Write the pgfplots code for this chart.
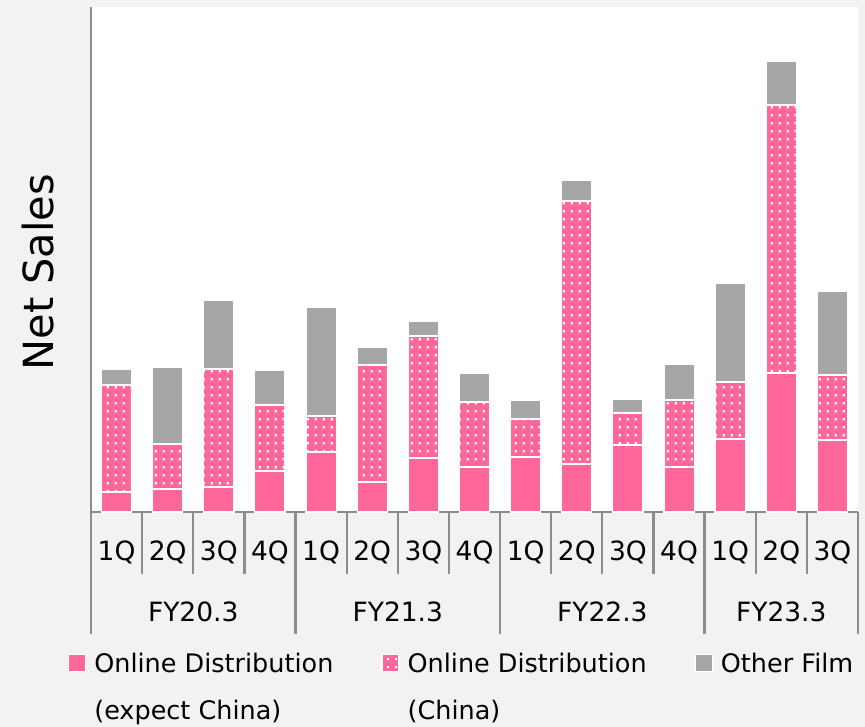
\documentclass[border=0pt]{standalone}
\usepackage{pgfplots}
\pgfplotsset{compat=1.18}
\usepackage{pgfplotstable}
\usepackage{fontspec}
\setmainfont{DejaVu Sans}
\usetikzlibrary{patterns}
\definecolor{pinkc}{HTML}{FF6699}
\definecolor{grayc}{HTML}{A6A6A6}
\definecolor{bgc}{HTML}{F2F2F2}
\definecolor{axisc}{HTML}{8C8C8C}
\pgfdeclarepatternformonly{whitedots}{\pgfpointorigin}{\pgfpoint{8bp}{8bp}}{\pgfpoint{8bp}{8bp}}{%
  \pgfpathrectangle{\pgfpoint{3bp}{3bp}}{\pgfpoint{2.4bp}{2.4bp}}\pgfusepath{fill}}
\pgfplotsset{sqlegend/.style={legend image code/.code={\path[##1] (0bp,-8bp) rectangle (17bp,9bp);}}}

\pgfplotstableread{
x a b c
0 20 107 16
1 23 45 77
2 25 118 69
3 41 66 35
4 60 36 109
5 30 117 18
6 54 122 15
7 45 65 29
8 55 38 19
9 48 263 21
10 67 32 14
11 45 67 36
12 73 57 99
13 139 268 44
14 72 65 84
}\datatable

\begin{document}
\begin{tikzpicture}
\path[use as bounding box, fill=bgc] (0,0) rectangle (865bp,727bp);
\begin{axis}[
  at={(91bp,215bp)}, anchor=south west,
  scale only axis, width=767bp, height=505bp,
  xmin=-0.5, xmax=14.5, ymin=0, ymax=505,
  ybar stacked, bar width=0.59,
  axis x line*=bottom, axis y line*=left,
  axis line style={draw=axisc, line width=2.8bp, -},
  axis background/.style={fill=white},
  ytick=\empty,
  xtick={0,...,14},
  xticklabels={1Q,2Q,3Q,4Q,1Q,2Q,3Q,4Q,1Q,2Q,3Q,4Q,1Q,2Q,3Q},
  major tick length=0pt,
  xticklabel style={font=\fontsize{26.5bp}{31bp}\selectfont, anchor=center, yshift=-40bp},
  ylabel={Net Sales},
  ylabel style={font=\fontsize{41.5bp}{48bp}\selectfont, at={(axis description cs:-0.069,0.475)}, anchor=center},
  clip=false,
  legend columns=3,
  legend cell align=left,
  legend style={draw=none, fill=none, at={(axis description cs:-0.034,-0.271)}, anchor=north west,
    font=\fontsize{25.5bp}{30bp}\selectfont,
    /tikz/every odd column/.append style={column sep=6bp},
    /tikz/every even column/.append style={column sep=46bp},
    row sep=22bp},
]
\addplot[fill=pinkc, draw=white, line width=1.2bp, sqlegend]
  table[x=x, y=a] {\datatable};
\addlegendentry{Online Distribution}
\addplot[fill=pinkc, draw=white, line width=1.2bp, postaction={pattern=whitedots, pattern color=white}, sqlegend]
  table[x=x, y=b] {\datatable};
\addlegendentry{Online Distribution}
\addplot[fill=grayc, draw=white, line width=1.2bp, sqlegend]
  table[x=x, y=c] {\datatable};
\addlegendentry{Other Film}
\addlegendimage{empty legend}
\addlegendentry{(expect China)}
\addlegendimage{empty legend}
\addlegendentry{(China)}

\pgfplotsinvokeforeach{0.5,1.5,2.5,4.5,5.5,6.5,8.5,9.5,10.5,12.5,13.5}{
  \draw[axisc, line width=2.2bp] (axis cs:#1,0) -- ([yshift=-62bp]axis cs:#1,0);
}
\pgfplotsinvokeforeach{-0.5,3.5,7.5,11.5,14.5}{
  \draw[axisc, line width=2.8bp] (axis cs:#1,0) -- ([yshift=-122bp]axis cs:#1,0);
}
\node[font=\fontsize{26.5bp}{31bp}\selectfont] at ([yshift=-100bp]axis cs:1.5,0) {FY20.3};
\node[font=\fontsize{26.5bp}{31bp}\selectfont] at ([yshift=-100bp]axis cs:5.5,0) {FY21.3};
\node[font=\fontsize{26.5bp}{31bp}\selectfont] at ([yshift=-100bp]axis cs:9.5,0) {FY22.3};
\node[font=\fontsize{26.5bp}{31bp}\selectfont] at ([yshift=-100bp]axis cs:13,0) {FY23.3};
\end{axis}
\end{tikzpicture}
\end{document}
